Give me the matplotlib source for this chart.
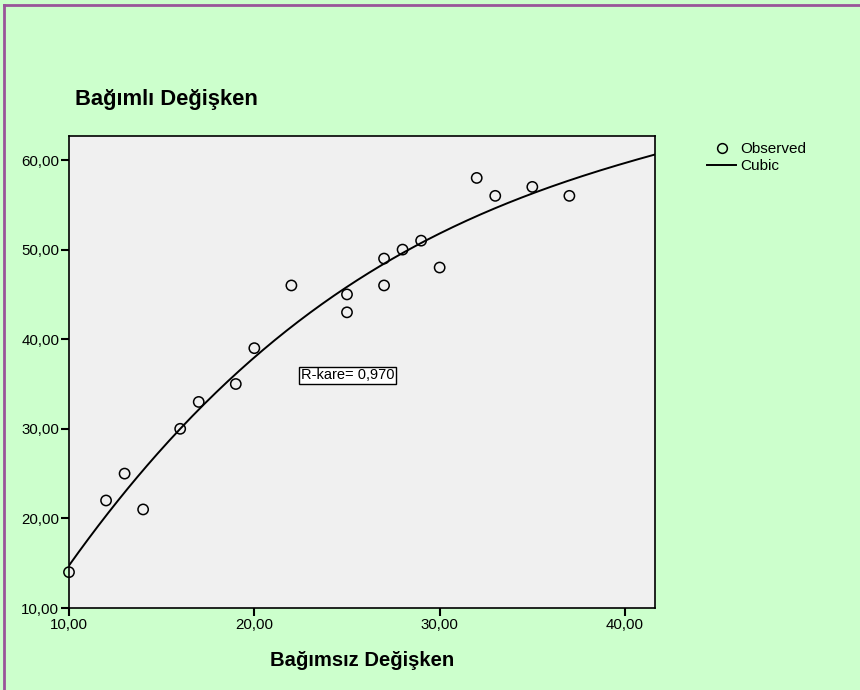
import matplotlib

matplotlib.use("Agg")
import matplotlib.pyplot as plt
import matplotlib.ticker as mticker
from matplotlib.lines import Line2D
import numpy as np

plt.rcParams["font.family"] = ["Liberation Sans", "DejaVu Sans"]

BG = "#ccffcc"
PANEL = "#f0f0f0"
BORDER = "#995599"

X_OBS = [10, 12, 13, 14, 16, 17, 19, 20, 22, 25, 25, 27, 27, 28, 29, 30, 32, 33, 35, 37]
Y_OBS = [14, 22, 25, 21, 30, 33, 35, 39, 46, 45, 43, 49, 46, 50, 51, 48, 58, 56, 57, 56]

X_TICKS = [10, 20, 30, 40]
Y_TICKS = [10, 20, 30, 40, 50, 60]
R2_LABEL = "R-kare= 0,970"


def main():
    fig = plt.figure(figsize=(8.6, 6.9), dpi=100)
    fig.patch.set_facecolor(BG)

    # axes box in pixels: left 69, right 655, top 136, bottom 608
    W, H = 860, 690
    ax = fig.add_axes([69 / W, 1 - 608 / H, (655 - 69) / W, (608 - 136) / H])
    ax.set_facecolor(PANEL)
    for s in ax.spines.values():
        s.set_color("black")
        s.set_linewidth(1.2)

    # cubic fit curve
    coef = np.polyfit(X_OBS, Y_OBS, 3)
    xs = np.linspace(10, 41.62, 300)
    ax.plot(xs, np.polyval(coef, xs), color="black", linewidth=1.4, zorder=3)

    ax.scatter(X_OBS, Y_OBS, s=55, facecolors="none", edgecolors="black",
               linewidths=1.1, zorder=4, clip_on=False)

    ax.set_xlim(10, 41.62)
    ax.set_ylim(10, 62.68)
    ax.set_xticks(X_TICKS)
    ax.set_yticks(Y_TICKS)
    fmt = mticker.FuncFormatter(lambda v, _: f"{v:.2f}".replace(".", ","))
    ax.xaxis.set_major_formatter(fmt)
    ax.yaxis.set_major_formatter(fmt)
    ax.tick_params(direction="out", length=6, width=1.5, labelsize=10.8,
                   colors="black", pad=1)

    ax.text(22.5, 36, R2_LABEL, fontsize=10.5, ha="left", va="center",
            bbox=dict(boxstyle="square,pad=0.1", facecolor="white",
                      edgecolor="black", linewidth=1))

    fig.text(75 / W, 1 - 100 / H, "Bağımlı Değişken", fontsize=15.8,
             fontweight="bold", ha="left", va="center")
    fig.text(362 / W, 1 - 660 / H, "Bağımsız Değişken", fontsize=14.6,
             fontweight="bold", ha="center", va="center")

    handles = [
        Line2D([], [], marker="o", linestyle="none", markerfacecolor="none",
               markeredgecolor="black", markersize=7, markeredgewidth=1.1,
               label="Observed"),
        Line2D([], [], color="black", linewidth=1.4, label="Cubic"),
    ]
    fig.legend(handles=handles, loc="upper left",
               bbox_to_anchor=(701 / W, 1 - 136 / H), frameon=False,
               fontsize=11, handlelength=1.9, handletextpad=0.3,
               labelspacing=0.2, borderaxespad=0)

    # purple frame on top and left edges
    fig.add_artist(Line2D([4 / W, 1], [1 - 5 / H, 1 - 5 / H], color=BORDER,
                          linewidth=2, transform=fig.transFigure))
    fig.add_artist(Line2D([4 / W, 4 / W], [0, 1 - 5 / H], color=BORDER,
                          linewidth=2, transform=fig.transFigure))

    fig.savefig("out.png", dpi=100, facecolor=BG)
    plt.close(fig)


if __name__ == "__main__":
    main()
